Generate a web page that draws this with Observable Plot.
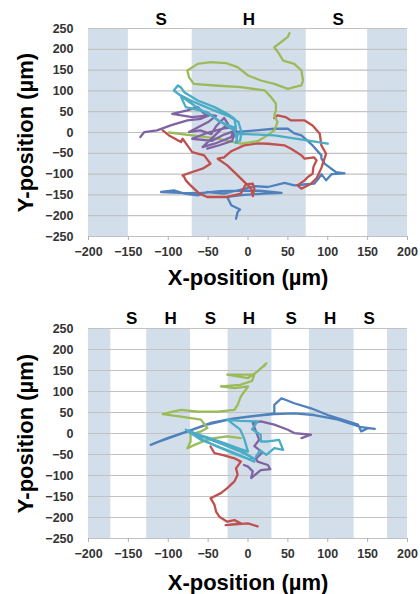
<!DOCTYPE html>
<html>
<head>
<meta charset="utf-8">
<script src="https://cdn.jsdelivr.net/npm/d3@7"></script>
<script src="https://cdn.jsdelivr.net/npm/@observablehq/plot@0.6"></script>
<style>
  html, body { margin: 0; padding: 0; background: #fff; }
  #charts { width: 420px; }
  #charts svg { display: block; }
</style>
</head>
<body>
<div id="charts"></div>
<script>
// ---- axes ----
const xTicks = [-200, -150, -100, -50, 0, 50, 100, 150, 200];
const yTicks = [-250, -200, -150, -100, -50, 0, 50, 100, 150, 200, 250];
const xLabel = "X-position (µm)";
const yLabel = "Y-position (µm)";

// ---- series colours (order: blue, red, green, purple, cyan) ----
const seriesColors = ["#4f81bd", "#c0504d", "#9bbb59", "#8064a2", "#4bacc6"];

// ---- top chart: zones ----
const topBandStart = [-200, -70, 150];
const topBandEnd = [-150, 73, 200];
const topZoneLabels = ["S", "H", "S"];
const topZoneX = [-109, 1, 113];

// ---- top chart: tracks [x, y] in µm ----
const topBlue = [[-17,1],[10,5],[33,9],[50,9],[58,-2],[67,-7],[81,-31],[92,-55],[92,-62],[96,-75],[110,-95],[121,-98],[105,-100],[98,-115],[92,-100],[88,-112],[83,-123],[70,-125],[58,-127],[46,-121],[25,-131],[8,-129],[-10,-138],[-30,-147],[-51,-143],[-63,-151],[-80,-147],[-93,-139],[-109,-143],[-85,-145],[-60,-146],[-35,-141],[-10,-140],[15,-140],[42,-145],[20,-147],[-5,-150],[-26,-155],[-21,-175],[-10,-185],[-13,-191],[-15,-207]];
const topRed = [[-107,5],[-99,-7],[-84,-23],[-82,-15],[-76,-31],[-70,-47],[-55,-55],[-47,-75],[-57,-87],[-70,-95],[-82,-103],[-80,-107],[-78,-115],[-72,-127],[-61,-147],[-51,-155],[-26,-155],[-9,-147],[-3,-125],[6,-123],[8,-135],[6,-153],[4,-135],[-13,-103],[-26,-79],[-38,-63],[-30,-60],[-21,-45],[-5,-31],[12,-26],[25,-27],[46,-31],[54,-39],[67,-55],[71,-63],[83,-60],[86,-67],[82,-83],[81,-99],[75,-107],[71,-115],[62,-127],[67,-135],[79,-123],[86,-110],[92,-85],[98,-51],[92,-31],[90,-3],[81,17],[71,29],[54,29],[47,37],[37,41],[33,35]];
const topGreen = [[52,239],[50,230],[33,205],[39,189],[44,173],[58,165],[67,149],[69,125],[67,113],[58,109],[50,105],[33,117],[16,125],[0,137],[-13,157],[-28,167],[-47,169],[-63,165],[-76,149],[-74,133],[-68,117],[-42,113],[-9,109],[21,101],[29,85],[35,69],[35,53],[33,41],[37,25],[33,5],[21,-11],[12,-21],[-9,-27],[-40,-14],[-99,0]];
const topPurple = [[-135,-11],[-130,1],[-114,5],[-97,17],[-76,29],[-59,33],[-49,41],[-70,37],[-95,45],[-76,53],[-63,61],[-55,45],[-40,40],[-50,25],[-74,1],[-60,5],[-46,-4],[-40,15],[-30,35],[-25,20],[-35,5],[-57,-35],[-42,-27],[-21,-11],[-17,13],[-30,10],[-50,0],[-70,-15],[-45,-20],[-30,-5],[-15,5],[-20,-20],[-35,-30],[-51,-39]];
const topCyan = [[100,-27],[70,-18],[33,-7],[0,-4],[-13,-3],[-15,-25],[-13,-23],[-17,5],[-30,20],[-45,40],[-60,55],[-75,75],[-93,101],[-88,113],[-84,108],[-80,97],[-63,77],[-42,61],[-26,45],[-17,33],[-15,10],[-25,18],[-38,29],[-51,49],[-78,61],[-85,90],[-70,75],[-45,55],[-25,40],[-12,25],[-8,0],[-10,-20]];

// ---- bottom chart: zones ----
const botBandStart = [-200, -127, -25, 77, 175];
const botBandEnd = [-172, -72, 30, 133, 200];
const botZoneLabels = ["S", "H", "S", "H", "S", "H", "S"];
const botZoneX = [-146, -97, -47, 1, 54, 103, 152];

// ---- bottom chart: tracks ----
const botBlue = [[-122,-27],[-101,-11],[-76,5],[-47,25],[-17,36],[16,44],[33,48],[33,68],[42,84],[58,72],[79,60],[100,44],[125,29],[138,21],[142,5],[151,13],[159,11],[140,16],[113,33],[83,44],[58,48],[33,46],[10,42],[-20,35],[-50,22],[-80,2],[-110,-18]];
const botRed = [[-47,-31],[-42,-47],[-30,-52],[-17,-59],[-9,-67],[-15,-83],[-13,-98],[-17,-114],[-26,-130],[-34,-142],[-47,-154],[-42,-170],[-40,-186],[-36,-198],[-26,-210],[-17,-206],[-9,-214],[-28,-218],[0,-214],[12,-221]];
const botGreen = [[-9,-11],[-26,-7],[-42,-11],[-51,-15],[-67,-27],[-76,-35],[-72,-19],[-72,-3],[-59,5],[-51,13],[-59,33],[-84,40],[-107,46],[-97,51],[-84,56],[-63,52],[-38,52],[-17,56],[-13,68],[-9,88],[0,112],[-17,108],[-34,112],[-10,116],[5,125],[8,140],[-26,140],[0,132],[12,148],[23,167],[20,160]];
const botPurple = [[67,-11],[79,-3],[58,1],[50,9],[33,21],[16,29],[6,25],[10,5],[14,-15],[8,-30],[18,-45],[10,-60],[12,-67],[25,-75],[28,-85],[16,-87],[4,-106],[6,-90],[0,-79],[-5,-75]];
const botCyan = [[-78,9],[-65,0],[-45,-15],[-25,-30],[-5,-45],[8,-60],[8,-67],[-10,-52],[-35,-33],[-60,-14],[-75,5],[-72,0],[-55,-9],[-30,-27],[-10,-43],[5,-57],[2,-62],[-15,-50],[-40,-30],[-62,-10],[-70,2],[-50,-10],[-28,-24],[-8,-38],[0,-43],[-5,-11],[-10,10],[-26,33],[-10,30],[12,29],[5,10],[16,-3],[16,-19],[25,-19],[39,-15],[44,-39],[33,-35],[23,-51],[15,-40],[10,-55]];

const FONT = "'Liberation Sans', Arial, sans-serif";

function makeChart(o) {
  const bands = o.bandStart.map((s, i) => ({x1: s, x2: o.bandEnd[i]}));
  const tracks = [o.blue, o.red, o.green, o.purple, o.cyan];
  return Plot.plot({
    width: 420,
    height: o.height,
    marginLeft: 88,
    marginRight: 13,
    marginTop: o.marginTop,
    marginBottom: o.marginBottom,
    x: {domain: [-200, 200]},
    y: {domain: [-250, 250]},
    style: {fontFamily: FONT, fontSize: "12.5px", fontWeight: "bold", color: "#333", background: "#fff"},
    marks: [
      Plot.rect(bands, {x1: "x1", x2: "x2", y1: -250, y2: 250, fill: "#d3deeb", inset: 0}),
      Plot.ruleY(yTicks, {stroke: "#c2c2c2", strokeWidth: 1.2}),
      Plot.axisY(yTicks, {tickSize: 0, tickPadding: 15, label: null, fill: "#333"}),
      Plot.axisX(xTicks, {tickSize: 4, tickPadding: 7, label: null, stroke: "#b0b0b0", fill: "#333"}),
      ...tracks.map((t, i) => Plot.line(t, {x: d => d[0], y: d => d[1], stroke: seriesColors[i], strokeWidth: 2.3, strokeLinejoin: "round", strokeLinecap: "round"})),
      Plot.text(o.zoneLabels, {x: (d, i) => o.zoneX[i], text: d => d, frameAnchor: "top", lineAnchor: "middle", dy: o.zoneDy, fontSize: 17, fontWeight: "bold", fill: "#000"}),
      Plot.text([yLabel], {frameAnchor: "left", textAnchor: "middle", lineAnchor: "middle", rotate: -90, dx: -63, fontSize: 22, fontWeight: "bold", fill: "#000"}),
      Plot.text([xLabel], {frameAnchor: "bottom", textAnchor: "middle", lineAnchor: "middle", dy: o.xLabelDy, fontSize: 22, fontWeight: "bold", fill: "#000"})
    ]
  });
}

const root = document.getElementById("charts");
root.appendChild(makeChart({
  height: 300, marginTop: 28, marginBottom: 64, xLabelDy: 41, zoneDy: -9,
  bandStart: topBandStart, bandEnd: topBandEnd, zoneLabels: topZoneLabels, zoneX: topZoneX,
  blue: topBlue, red: topRed, green: topGreen, purple: topPurple, cyan: topCyan
}));
root.appendChild(makeChart({
  height: 294, marginTop: 28, marginBottom: 56, xLabelDy: 44, zoneDy: -10,
  bandStart: botBandStart, bandEnd: botBandEnd, zoneLabels: botZoneLabels, zoneX: botZoneX,
  blue: botBlue, red: botRed, green: botGreen, purple: botPurple, cyan: botCyan
}));
</script>
</body>
</html>
